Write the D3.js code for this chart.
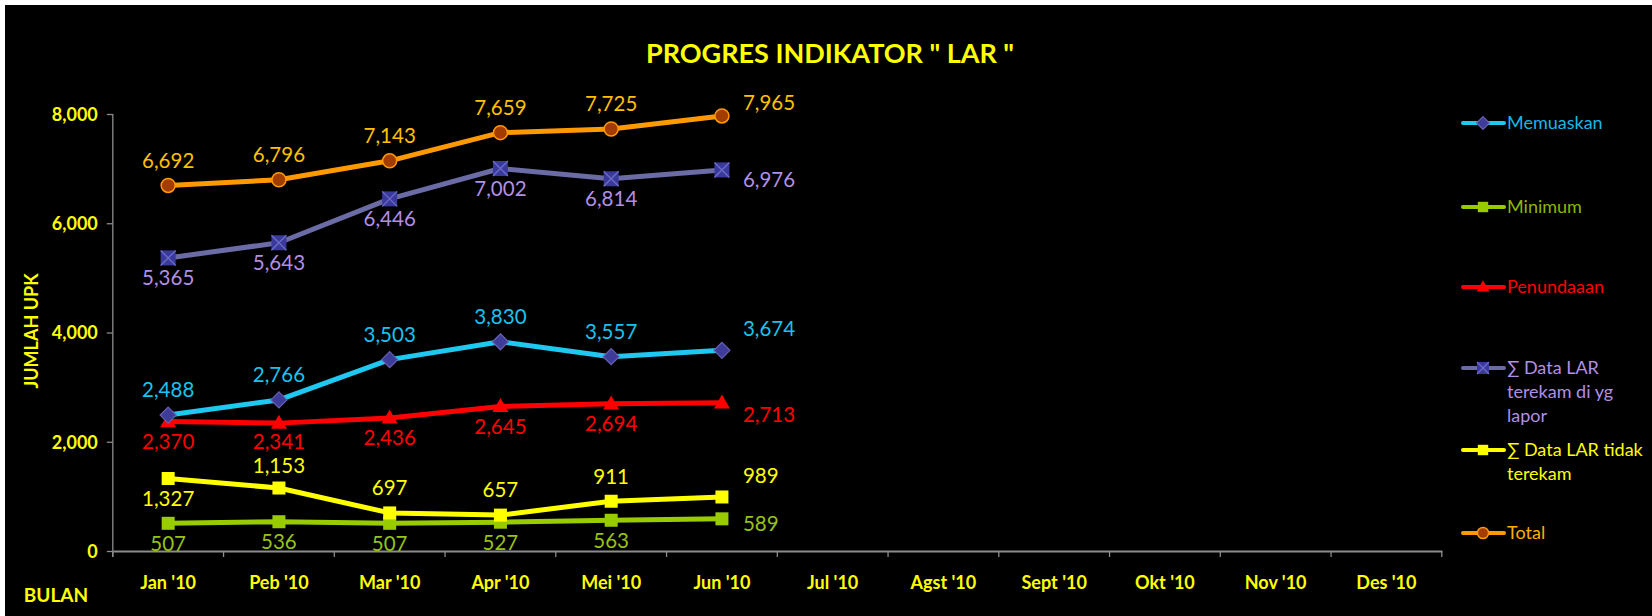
<!DOCTYPE html>
<html>
<head>
<meta charset="utf-8">
<script src="https://cdn.jsdelivr.net/npm/d3@7"></script>
<style>
  html, body { margin: 0; padding: 0; background: #ffffff; }
  svg { display: block; }
  text { font-family: Lato, "Open Sans", sans-serif; }
</style>
</head>
<body>
<svg id="chart" width="1652" height="616"></svg>
<script>
// ---------- data ----------
const months = ["Jan '10", "Peb '10", "Mar '10", "Apr '10", "Mei '10", "Jun '10",
                "Jul '10", "Agst '10", "Sept '10", "Okt '10", "Nov '10", "Des '10"];
const yTicks = [0, 2000, 4000, 6000, 8000];

const memuaskan = [2488, 2766, 3503, 3830, 3557, 3674];
const minimum = [507, 536, 507, 527, 563, 589];
const penundaaan = [2370, 2341, 2436, 2645, 2694, 2713];
const terekam = [5365, 5643, 6446, 7002, 6814, 6976];
const tidakTerekam = [1327, 1153, 697, 657, 911, 989];
const total = [6692, 6796, 7143, 7659, 7725, 7965];

const seriesNames = ["Memuaskan", "Minimum", "Penundaaan",
                     "\u2211 Data LAR terekam di yg lapor", "\u2211 Data LAR tidak terekam", "Total"];

// label placement: a = above, b = below (optional distance), r = right (with vertical nudge)
const labelPlace = {
  "Memuaskan": ["a", "a", "a", "a", "a", "r-22"],
  "Minimum": ["b", "b", "b", "b", "b", "r5"],
  "Penundaaan": ["b", "b18", "b", "b", "b", "r12"],
  "terekam": ["b", "b", "b", "b", "b", "r10"],
  "tidak": ["b", "a22", "a", "a", "a", "r-21"],
  "Total": ["a", "a", "a", "a", "a", "r-13"]
};

// ---------- setup ----------
const svg = d3.select("#chart");
svg.append("rect").attr("x", 5).attr("y", 5).attr("width", 1647).attr("height", 611).attr("fill", "#000");

const plot = { left: 112.8, right: 1441.8, top: 114, bottom: 551 };
const x = d3.scaleBand().domain(months).range([plot.left, plot.right]);
const y = d3.scaleLinear().domain([0, 8000]).range([plot.bottom, plot.top]);
const cx = i => x(months[i]) + x.bandwidth() / 2;
const fmt = d3.format(",");

// title
svg.append("text").attr("x", 830).attr("y", 63).attr("text-anchor", "middle")
  .attr("fill", "#FFFF00").attr("font-weight", 700).attr("font-size", 27)
  .text('PROGRES INDIKATOR " LAR "');

// axes
const yAxis = d3.axisLeft(y).tickValues(yTicks).tickFormat(fmt).tickSize(6).tickSizeOuter(0);
const gy = svg.append("g").attr("transform", `translate(${plot.left},0)`).call(yAxis);
gy.select(".domain").attr("stroke", "#8c8c8c").attr("stroke-width", 1.3)
  .attr("d", `M0,${plot.top}V${plot.bottom + 6}`);
gy.selectAll(".tick line").attr("stroke", "#8c8c8c").attr("stroke-width", 1.3);
gy.selectAll(".tick text").attr("fill", "#FFFF00").attr("font-weight", 700)
  .attr("font-size", 18).attr("font-family", "Lato, sans-serif").attr("x", -15).attr("dy", "0.35em");

const xAxis = d3.axisBottom(x).tickSize(0).tickSizeOuter(0);
const gx = svg.append("g").attr("transform", `translate(0,${plot.bottom})`).call(xAxis);
gx.select(".domain").attr("stroke", "#8c8c8c").attr("stroke-width", 2);
gx.selectAll(".tick text").attr("fill", "#FFFF00").attr("font-weight", 700)
  .attr("font-size", 18).attr("font-family", "Lato, sans-serif").attr("y", 38).attr("dy", 0);
// x tick marks at band boundaries
const bounds = months.map(m => x(m)).concat([plot.right]);
gx.selectAll(".bt").data(bounds).enter().append("line")
  .attr("x1", d => d).attr("x2", d => d).attr("y1", 0).attr("y2", 6)
  .attr("stroke", "#8c8c8c").attr("stroke-width", 1.3);

svg.append("text").attr("transform", "translate(38,331) rotate(-90)").attr("text-anchor", "middle")
  .attr("fill", "#FFFF00").attr("font-weight", 700).attr("font-size", 18).text("JUMLAH UPK");
svg.append("text").attr("x", 56).attr("y", 602).attr("text-anchor", "middle")
  .attr("fill", "#FFFF00").attr("font-weight", 700).attr("font-size", 19).text("BULAN");

// ---------- series ----------
const series = [
  { key: "Memuaskan", values: memuaskan, line: "#1EC8F0", label: "#19C3F0", legendText: "#17B8E6",
    marker: "diamond", mfill: "#3D3D99", mstroke: "#6A5FB4" },
  { key: "Minimum", values: minimum, line: "#99CC00", label: "#96C314", legendText: "#8DB600",
    marker: "square", mfill: "#99CC00", mstroke: "#99CC00", size: 13 },
  { key: "Penundaaan", values: penundaaan, line: "#FF0000", label: "#FF0000", legendText: "#FF0000",
    marker: "triangle", mfill: "#FF0000", mstroke: "#FF0000" },
  { key: "terekam", values: terekam, line: "#6B6BA6", label: "#B08FE6", legendText: "#B08FE6",
    marker: "xsquare", mfill: "#3A3A9C", mstroke: "#6C6CC4", size: 15 },
  { key: "tidak", values: tidakTerekam, line: "#FFFF00", label: "#FFFF00", legendText: "#FFFF00",
    marker: "square", mfill: "#FFFF00", mstroke: "#FFFF00", size: 13 },
  { key: "Total", values: total, line: "#FF9900", label: "#FFC000", legendText: "#FFB000",
    marker: "circle", mfill: "#A33C00", mstroke: "#FF9900" }
];
series.forEach((s, i) => s.name = seriesNames[i]);

function drawMarker(g, s, px, py, scale) {
  const k = scale || 1;
  if (s.marker === "circle") {
    g.append("circle").attr("cx", px).attr("cy", py).attr("r", 7 * k)
      .attr("fill", s.mfill).attr("stroke", s.mstroke).attr("stroke-width", 1.5);
  } else if (s.marker === "square") {
    const h = (s.size || 13) * k;
    g.append("rect").attr("x", px - h / 2).attr("y", py - h / 2).attr("width", h).attr("height", h)
      .attr("fill", s.mfill);
  } else if (s.marker === "xsquare") {
    const h = (s.size || 15) * k;
    g.append("rect").attr("x", px - h / 2).attr("y", py - h / 2).attr("width", h).attr("height", h)
      .attr("fill", s.mfill);
    g.append("path").attr("d", `M${px - h / 2},${py - h / 2}L${px + h / 2},${py + h / 2}M${px + h / 2},${py - h / 2}L${px - h / 2},${py + h / 2}`)
      .attr("stroke", s.mstroke).attr("stroke-width", 1.3);
  } else if (s.marker === "diamond") {
    const r = 8 * k;
    g.append("path").attr("d", `M${px},${py - r}L${px + r},${py}L${px},${py + r}L${px - r},${py}Z`)
      .attr("fill", s.mfill).attr("stroke", s.mstroke).attr("stroke-width", 1.2);
  } else if (s.marker === "triangle") {
    const w = 16 * k, h = 14 * k;
    g.append("path").attr("d", `M${px},${py - h * 0.6}L${px + w / 2},${py + h * 0.4}L${px - w / 2},${py + h * 0.4}Z`)
      .attr("fill", s.mfill);
  }
}

const line = d3.line().x((d, i) => cx(i)).y(d => y(d));
const gSeries = svg.append("g");
const drawOrder = ["Minimum", "tidak", "Penundaaan", "Memuaskan", "terekam", "Total"];
drawOrder.forEach(key => {
  const s = series.find(t => t.key === key);
  const g = gSeries.append("g");
  g.append("path").datum(s.values).attr("d", line).attr("fill", "none")
    .attr("stroke", s.line).attr("stroke-width", 5).attr("stroke-linejoin", "round");
  s.values.forEach((v, i) => drawMarker(g, s, cx(i), y(v)));
});

// labels
const gLabels = svg.append("g");
series.forEach(s => {
  s.values.forEach((v, i) => {
    const p = labelPlace[s.key][i];
    const kind = p[0], amt = p.length > 1 ? +p.slice(1) : null;
    let tx = cx(i), ty = y(v), anchor = "middle";
    if (kind === "a") ty -= (amt == null ? 25 : amt);
    else if (kind === "b") ty += (amt == null ? 20 : amt);
    else { anchor = "start"; tx += 21; ty += amt; }
    gLabels.append("text").attr("x", tx).attr("y", ty).attr("dy", "0.36em")
      .attr("text-anchor", anchor).attr("fill", s.label).attr("font-size", 20.5)
      .text(fmt(v));
  });
});

// ---------- legend ----------
const legendRows = [
  { key: "Memuaskan", y: 123, lines: ["Memuaskan"] },
  { key: "Minimum", y: 207, lines: ["Minimum"] },
  { key: "Penundaaan", y: 287, lines: ["Penundaaan"] },
  { key: "terekam", y: 368, lines: ["\u2211 Data LAR", "terekam di yg", "lapor"] },
  { key: "tidak", y: 450, lines: ["\u2211 Data LAR tidak", "terekam"] },
  { key: "Total", y: 533, lines: ["Total"] }
];
const gLeg = svg.append("g");
legendRows.forEach(r => {
  const s = series.find(t => t.key === r.key);
  gLeg.append("line").attr("x1", 1463).attr("x2", 1504).attr("y1", r.y).attr("y2", r.y)
    .attr("stroke", s.line).attr("stroke-width", 4).attr("stroke-linecap", "round");
  drawMarker(gLeg, s, 1483, r.y, 0.8);
  const t = gLeg.append("text").attr("x", 1507).attr("y", r.y).attr("fill", s.legendText)
    .attr("font-size", 18);
  r.lines.forEach((ln, j) => {
    t.append("tspan").attr("x", 1507).attr("dy", j === 0 ? "0.36em" : 24).text(ln);
  });
});
</script>
</body>
</html>
